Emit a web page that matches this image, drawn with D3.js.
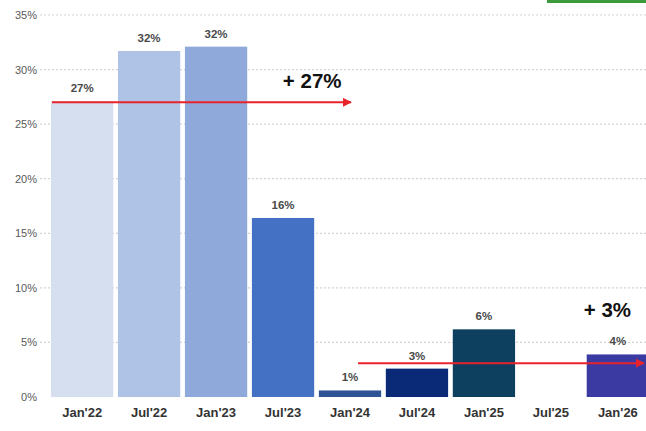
<!DOCTYPE html>
<html>
<head>
<meta charset="utf-8">
<script src="https://cdn.jsdelivr.net/npm/d3@7"></script>
<style>
  html, body { margin: 0; padding: 0; background: #fff; }
  svg { display: block; }
  text { font-family: "Liberation Sans", Arial, sans-serif; }
</style>
</head>
<body>
<svg id="chart" width="646" height="431"></svg>
<script>
// Half-year periods and their growth rates (%)
const periods = ["Jan'22", "Jul'22", "Jan'23", "Jul'23", "Jan'24", "Jul'24", "Jan'25", "Jul'25", "Jan'26"];
const rates   = [27.1, 31.7, 32.1, 16.4, 0.6, 2.6, 6.2, null, 3.9];
const colors  = ["#d5dff0", "#afc3e6", "#8ea9da", "#4471c3", "#2f5496", "#0a2a78", "#0d3f5e", "#ffffff", "#3b3aa3"];
const yTicks  = [0, 5, 10, 15, 20, 25, 30, 35];

// Trend annotations: level (%) and text
const trends = [
  { label: "+ 27%", level: 27, from: "Jan'22", to: "Jan'24" },
  { label: "+ 3%",  level: 3.1, from: "Jan'24", to: "Jan'26" }
];

const svg = d3.select("#chart");
const W = 646, H = 431;

const x = d3.scaleBand().domain(periods).range([50, 650]).paddingInner(0.07).paddingOuter(0.015);
const y = d3.scaleLinear().domain([0, 35]).range([397, 15]);

// Cropped header badge
svg.append("rect").attr("x", 547).attr("y", 0).attr("width", 99).attr("height", 3).attr("fill", "#3d9a3a");

// Gridlines
svg.append("g").selectAll("line").data(yTicks.filter(d => d > 0)).join("line")
  .attr("x1", 40).attr("x2", W)
  .attr("y1", d => y(d)).attr("y2", d => y(d))
  .attr("stroke", "#d4d4d4").attr("stroke-width", 1.2).attr("stroke-dasharray", "2,2");

// Y axis labels
const yAxis = d3.axisLeft(y).tickValues(yTicks).tickFormat(d => d + "%").tickSize(0).tickPadding(0);
const gy = svg.append("g").attr("transform", "translate(37,0)").call(yAxis);
gy.select(".domain").remove();
gy.selectAll("text").attr("font-size", 11).attr("fill", "#595959").attr("font-family", "Liberation Sans, Arial, sans-serif");

// Bars
const rows = periods.map((p, i) => ({ p, v: rates[i], c: colors[i] })).filter(d => d.v != null);
svg.append("g").selectAll("rect").data(rows).join("rect")
  .attr("x", d => x(d.p)).attr("width", x.bandwidth())
  .attr("y", d => y(d.v)).attr("height", d => y(0) - y(d.v))
  .attr("fill", d => d.c);

// Value labels
const fmt = d => d3.format(".0f")(d) + "%";
svg.append("g").selectAll("text").data(rows).join("text")
  .attr("x", d => x(d.p) + x.bandwidth() / 2)
  .attr("y", d => y(d.v) - 9)
  .attr("text-anchor", "middle")
  .attr("font-size", 11.5).attr("font-weight", "bold").attr("fill", "#4a4a4a")
  .text(d => fmt(d.v));

// X axis labels
const xAxis = d3.axisBottom(x).tickSize(0).tickPadding(0);
const gx = svg.append("g").attr("transform", "translate(0,405)").call(xAxis);
gx.select(".domain").remove();
gx.selectAll("text").attr("font-size", 13).attr("font-weight", "bold").attr("fill", "#333")
  .attr("font-family", "Liberation Sans, Arial, sans-serif").attr("dy", "0.9em");

// Trend arrows
const defs = svg.append("defs");
defs.append("marker").attr("id", "arrow").attr("viewBox", "0 0 10 10")
  .attr("refX", 9).attr("refY", 5).attr("markerWidth", 4.5).attr("markerHeight", 4.5)
  .attr("orient", "auto")
  .append("path").attr("d", "M0,0 L10,5 L0,10 Z").attr("fill", "#e8232b");

const t1 = trends[0], t2 = trends[1];
svg.append("line")
  .attr("x1", x(t1.from) + 1).attr("x2", x(t1.to) + x.bandwidth() / 2 + 1)
  .attr("y1", y(t1.level)).attr("y2", y(t1.level))
  .attr("stroke", "#e8232b").attr("stroke-width", 2).attr("marker-end", "url(#arrow)");
svg.append("text")
  .attr("x", x(t1.to) - 36).attr("y", y(t1.level) - 14)
  .attr("font-size", 20.5).attr("font-weight", "bold").attr("fill", "#111")
  .text(t1.label);

svg.append("line")
  .attr("x1", x(t2.from) + x.bandwidth() / 2 + 8).attr("x2", x(t2.to) + x.bandwidth() - 5)
  .attr("y1", y(t2.level)).attr("y2", y(t2.level))
  .attr("stroke", "#e8232b").attr("stroke-width", 2).attr("marker-end", "url(#arrow)");
svg.append("text")
  .attr("x", x(t2.to) - 3).attr("y", y(t2.level) - 46)
  .attr("font-size", 20.5).attr("font-weight", "bold").attr("fill", "#111")
  .text(t2.label);
</script>
</body>
</html>
